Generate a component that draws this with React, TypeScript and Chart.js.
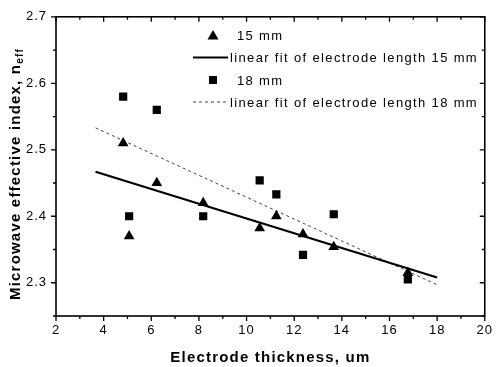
import React, { useEffect, useRef } from 'react';
import { Chart, registerables } from 'chart.js';

Chart.register(...registerables);

const thickness15 = [4.82, 5.07, 6.23, 8.18, 10.55, 11.25, 12.37, 13.66, 16.77];
const neff15 = [2.51, 2.37, 2.45, 2.42, 2.382, 2.4, 2.373, 2.354, 2.315];
const thickness18 = [4.82, 5.07, 6.23, 8.18, 10.55, 11.25, 12.37, 13.66, 16.77];
const neff18 = [2.58, 2.4, 2.56, 2.4, 2.454, 2.433, 2.342, 2.403, 2.305];
const fit15X = [3.66, 18.0];
const fit15Y = [2.467, 2.308];
const fit18X = [3.66, 18.0];
const fit18Y = [2.533, 2.297];
const xTicks = [2, 4, 6, 8, 10, 12, 14, 16, 18, 20];
const yTicks = [2.3, 2.4, 2.5, 2.6, 2.7];
const xMinorTicks = [3, 5, 7, 9, 11, 13, 15, 17, 19];
const yMinorTicks = [2.25, 2.35, 2.45, 2.55, 2.65];
const legendLabels = [
  '15 mm',
  'linear fit of electrode length 15 mm',
  '18 mm',
  'linear fit of electrode length 18 mm',
];
const xTitle = 'Electrode thickness, um';
const yTitleMain = 'Microwave effective index, n';
const yTitleSub = 'eff';

const FONT = '"Liberation Sans", Arial, Helvetica, sans-serif';

const zip = (xs: number[], ys: number[]) => xs.map((x, i) => ({ x, y: ys[i] }));

const framePlugin = {
  id: 'frame',
  beforeDraw(chart: any) {
    chart.ctx.letterSpacing = '1px';
  },
  afterDraw(chart: any) {
    const ctx = chart.ctx as CanvasRenderingContext2D;
    const { left, right, top, bottom } = chart.chartArea;
    const xs = chart.scales.x;
    const ys = chart.scales.y;
    ctx.save();
    ctx.strokeStyle = '#000';
    ctx.lineWidth = 1.6;
    ctx.strokeRect(left, top, right - left, bottom - top);
    ctx.lineWidth = 1.3;
    const major = 5;
    const minor = 3;
    ctx.beginPath();
    for (const v of xTicks) {
      const p = xs.getPixelForValue(v);
      ctx.moveTo(p, bottom); ctx.lineTo(p, bottom + major);
      ctx.moveTo(p, top); ctx.lineTo(p, top + major);
    }
    for (const v of xMinorTicks) {
      const p = xs.getPixelForValue(v);
      ctx.moveTo(p, bottom); ctx.lineTo(p, bottom + minor);
      ctx.moveTo(p, top); ctx.lineTo(p, top + minor);
    }
    for (const v of yTicks) {
      const p = ys.getPixelForValue(v);
      ctx.moveTo(left, p); ctx.lineTo(left - major, p);
      ctx.moveTo(right, p); ctx.lineTo(right - major, p);
    }
    for (const v of yMinorTicks) {
      const p = ys.getPixelForValue(v);
      ctx.moveTo(left, p); ctx.lineTo(left - minor, p);
      ctx.moveTo(right, p); ctx.lineTo(right - minor, p);
    }
    ctx.stroke();

    // axis titles
    ctx.fillStyle = '#000';
    ctx.letterSpacing = '1.2px';
    ctx.font = `bold 15px ${FONT}`;
    ctx.textAlign = 'center';
    ctx.textBaseline = 'alphabetic';
    ctx.fillText(xTitle, (left + right) / 2, 362);

    ctx.save();
    ctx.translate(20, 174);
    ctx.rotate(-Math.PI / 2);
    ctx.font = `bold 15px ${FONT}`;
    const wMain = ctx.measureText(yTitleMain).width;
    ctx.font = `bold 10px ${FONT}`;
    const wSub = ctx.measureText(yTitleSub).width;
    const total = wMain + wSub;
    ctx.textAlign = 'left';
    ctx.font = `bold 15px ${FONT}`;
    ctx.fillText(yTitleMain, -total / 2, 0);
    ctx.font = `bold 10px ${FONT}`;
    ctx.fillText(yTitleSub, -total / 2 + wMain, 3);
    ctx.restore();

    // legend
    ctx.letterSpacing = '1.35px';
    ctx.font = `13px ${FONT}`;
    ctx.textAlign = 'left';
    ctx.textBaseline = 'middle';
    const rows = [35, 57.5, 80, 102];
    chart.data.datasets.forEach((ds: any, i: number) => {
      const y = rows[i];
      if (ds.showLine) {
        ctx.save();
        ctx.strokeStyle = ds.borderColor;
        ctx.lineWidth = ds.borderWidth;
        ctx.setLineDash(ds.borderDash || []);
        ctx.beginPath();
        ctx.moveTo(193, y);
        ctx.lineTo(228, y);
        ctx.stroke();
        ctx.restore();
        ctx.fillText(ds.label, 230, y + 1);
      } else {
        ctx.save();
        ctx.fillStyle = '#000';
        ctx.beginPath();
        if (ds.pointStyle === 'triangle') {
          ctx.moveTo(213, y - 5);
          ctx.lineTo(218.5, y + 4.5);
          ctx.lineTo(207.5, y + 4.5);
        } else {
          ctx.rect(209, y - 4, 8, 8);
        }
        ctx.closePath();
        ctx.fill();
        ctx.restore();
        ctx.fillText(ds.label, 237, y + 1);
      }
    });
    ctx.restore();
  },
};

export default function App() {
  const ref = useRef<HTMLCanvasElement | null>(null);
  useEffect(() => {
    document.body.style.margin = '0';
    const chart = new Chart(ref.current as HTMLCanvasElement, {
      type: 'scatter',
      data: {
        datasets: [
          {
            label: legendLabels[0],
            data: zip(thickness15, neff15),
            pointStyle: 'triangle',
            pointRadius: 6.2,
            backgroundColor: '#000',
            borderColor: '#000',
            borderWidth: 0,
            showLine: false,
          },
          {
            label: legendLabels[1],
            data: zip(fit15X, fit15Y),
            showLine: true,
            pointRadius: 0,
            borderColor: '#000',
            borderWidth: 2.2,
          },
          {
            label: legendLabels[2],
            data: zip(thickness18, neff18),
            pointStyle: 'rect',
            pointRadius: 5.8,
            backgroundColor: '#000',
            borderColor: '#000',
            borderWidth: 0,
            showLine: false,
          },
          {
            label: legendLabels[3],
            data: zip(fit18X, fit18Y),
            showLine: true,
            pointRadius: 0,
            borderColor: '#444',
            borderWidth: 1,
            borderDash: [3, 3],
          },
        ] as any,
      },
      options: {
        animation: false,
        responsive: true,
        maintainAspectRatio: false,
        layout: { padding: { top: 14, right: 8, left: 0, bottom: 0 } },
        plugins: { legend: { display: false }, tooltip: { enabled: false } },
        scales: {
          x: {
            type: 'linear',
            min: 2,
            max: 20,
            afterBuildTicks: (s: any) => {
              s.ticks = xTicks.map((v) => ({ value: v }));
            },
            afterFit: (s: any) => {
              s.height = 51;
            },
            grid: { display: false, drawTicks: false },
            border: { display: false },
            ticks: {
              color: '#000',
              padding: 7,
              maxRotation: 0,
              font: { family: FONT, size: 13 },
            },
          },
          y: {
            type: 'linear',
            min: 2.25,
            max: 2.7,
            afterBuildTicks: (s: any) => {
              s.ticks = yTicks.map((v) => ({ value: v }));
            },
            afterFit: (s: any) => {
              s.width = 56;
            },
            grid: { display: false, drawTicks: false },
            border: { display: false },
            ticks: {
              color: '#000',
              padding: 9,
              font: { family: FONT, size: 13 },
              callback: (v: any) => Number(v).toFixed(1),
            },
          },
        },
      },
      plugins: [framePlugin],
    });
    return () => chart.destroy();
  }, []);
  return (
    <div style={{ width: 499, height: 367, position: 'relative' }}>
      <canvas ref={ref} />
    </div>
  );
}
